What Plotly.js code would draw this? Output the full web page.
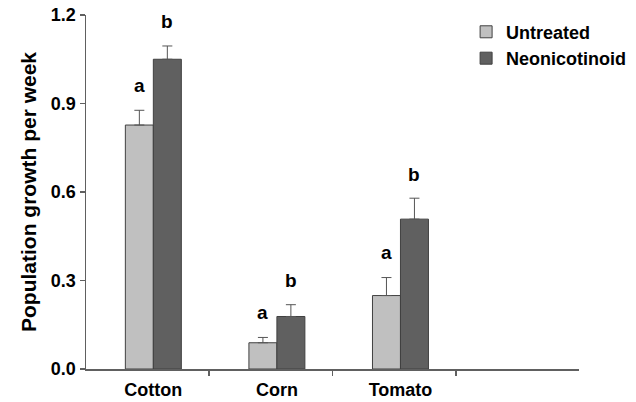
<!DOCTYPE html>
<html>
<head>
<meta charset="utf-8">
<script src="https://cdn.plot.ly/plotly-3.0.1.min.js"></script>
<style>html,body{margin:0;padding:0;background:#fff}#chart{width:636px;height:402px}</style>
</head>
<body>
<div id="chart"></div>
<script>
// ---- data ----
const categories = ['Cotton', 'Corn', 'Tomato'];
const untreated = [0.827, 0.089, 0.249];
const untreatedErr = [0.050, 0.018, 0.061];
const neonicotinoid = [1.050, 0.178, 0.508];
const neonicotinoidErr = [0.045, 0.040, 0.071];
const lettersUntreated = ['a', 'a', 'a'];
const lettersNeonicotinoid = ['b', 'b', 'b'];
const yTicks = [0.0, 0.3, 0.6, 0.9, 1.2];

const xPos = categories.map((_, i) => i);
const FONT = 'Liberation Sans, Arial, sans-serif';
const barHalf = 0.113;

const traces = [
  {
    type: 'bar', name: 'Untreated', x: xPos, y: untreated,
    marker: {color: '#c0c0c0', line: {color: '#404040', width: 1}},
    error_y: {type: 'data', symmetric: false, array: untreatedErr, arrayminus: untreated.map(() => 0),
              color: '#555555', thickness: 1, width: 5}
  },
  {
    type: 'bar', name: 'Neonicotinoid', x: xPos, y: neonicotinoid,
    marker: {color: '#606060', line: {color: '#404040', width: 1}},
    error_y: {type: 'data', symmetric: false, array: neonicotinoidErr, arrayminus: neonicotinoid.map(() => 0),
              color: '#555555', thickness: 1, width: 5}
  }
];

const annotations = [];
xPos.forEach((x, i) => {
  annotations.push({x: x - barHalf, y: untreated[i] + untreatedErr[i], yshift: 25, text: lettersUntreated[i],
    showarrow: false, xref: 'x', yref: 'y', yanchor: 'middle',
    font: {family: FONT, size: 19, color: '#000', weight: 'bold'}});
  annotations.push({x: x + barHalf, y: neonicotinoid[i] + neonicotinoidErr[i], yshift: 24, text: lettersNeonicotinoid[i],
    showarrow: false, xref: 'x', yref: 'y', yanchor: 'middle',
    font: {family: FONT, size: 19, color: '#000', weight: 'bold'}});
});

const layout = {
  width: 636, height: 402,
  margin: {l: 85.5, r: 56.5, t: 14.5, b: 32.5, autoexpand: false},
  paper_bgcolor: '#fff', plot_bgcolor: '#fff',
  font: {family: FONT, size: 18, color: '#000', weight: 'bold'},
  barmode: 'group', bargap: 0.547, bargroupgap: 0,
  showlegend: true,
  legend: {x: 0.771, y: 1.004, xanchor: 'left', yanchor: 'top', bgcolor: 'rgba(0,0,0,0)',
           font: {family: FONT, size: 18, color: '#000', weight: 'bold'}, tracegroupgap: 0},
  xaxis: {
    range: [-0.545, 3.445], showgrid: false, zeroline: false,
    showline: true, linecolor: '#606060', linewidth: 1.5,
    tickmode: 'array', tickvals: xPos, ticktext: categories, ticks: '',
    ticklabelstandoff: 4,
    tickfont: {family: FONT, size: 18, color: '#000', weight: 'bold'},
    minor: {tickmode: 'linear', tick0: 0.45, dtick: 1, ticks: 'outside', ticklen: 5, tickcolor: '#606060', tickwidth: 1.5, showgrid: false},
    automargin: false, fixedrange: true
  },
  yaxis: {
    range: [0, 1.2], showgrid: false, zeroline: false,
    showline: true, linecolor: '#606060', linewidth: 1.5,
    tickmode: 'array', tickvals: yTicks, ticktext: yTicks.map(v => v.toFixed(1)),
    ticks: 'outside', ticklen: 5, tickcolor: '#606060', tickwidth: 1.5,
    tickfont: {family: FONT, size: 18, color: '#000', weight: 'bold'},
    title: {text: 'Population growth per week', font: {family: FONT, size: 21, color: '#000', weight: 'bold'}, standoff: 8},
    automargin: false, fixedrange: true
  },
  annotations: annotations
};

Plotly.newPlot('chart', traces, layout, {displayModeBar: false, staticPlot: true});
</script>
</body>
</html>
